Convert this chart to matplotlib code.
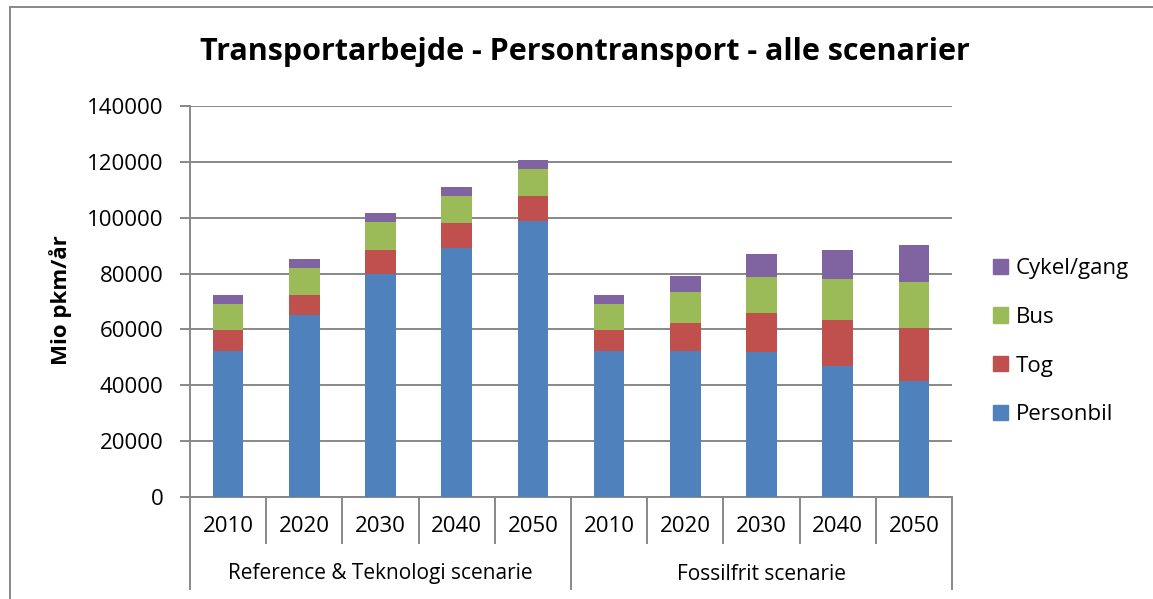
import matplotlib
matplotlib.use("Agg")
import matplotlib.pyplot as plt
from matplotlib.lines import Line2D
from matplotlib.patches import Patch
import numpy as np

W, H = 1153, 599
plt.rcParams['font.family'] = ['Open Sans', 'DejaVu Sans']

title = "Transportarbejde - Persontransport - alle scenarier"
ylabel = "Mio pkm/år"
years = ["2010", "2020", "2030", "2040", "2050"]
scenarios = ["Reference & Teknologi scenarie", "Fossilfrit scenarie"]
series_names = ["Personbil", "Tog", "Bus", "Cykel/gang"]
colors = ["#4F81BD", "#C0504D", "#9BBB59", "#8064A2"]

personbil = [52400, 65000, 80000, 89300, 98900, 52400, 52300, 52000, 46800, 41500]
tog = [7400, 7500, 8600, 8700, 8700, 7400, 10000, 13900, 16600, 19000]
bus = [9200, 9450, 9700, 9800, 9900, 9200, 11100, 12800, 14600, 16500]
cykel = [3200, 3350, 3350, 3350, 3200, 3200, 5600, 8250, 10500, 13150]
yticks = [0, 20000, 40000, 60000, 80000, 100000, 120000, 140000]

series = [personbil, tog, bus, cykel]

fig = plt.figure(figsize=(W / 100, H / 100), dpi=100)

def px2fig(x, y):
    return x / W, 1 - y / H

ax_left, ax_right, ax_top, ax_bot = 190, 952, 106, 497
ax = fig.add_axes([ax_left / W, 1 - ax_bot / H, (ax_right - ax_left) / W, (ax_bot - ax_top) / H])

x = np.arange(len(personbil))
bottom = np.zeros(len(x))
for vals, c, name in zip(series, colors, series_names):
    ax.bar(x, vals, 0.4, bottom=bottom, color=c, label=name, zorder=3)
    bottom += np.array(vals)

ax.set_xlim(-0.5, len(x) - 0.5)
ax.set_ylim(0, 140000)
ax.set_yticks(yticks)
ax.set_yticklabels([str(v) for v in yticks], fontsize=16)
grey = "#888888"
ax.yaxis.grid(True, color=grey, linewidth=1.4, zorder=0)
ax.set_xticks([])
for s in ["top", "right"]:
    ax.spines[s].set_visible(False)
for s in ["left", "bottom"]:
    ax.spines[s].set_color(grey)
    ax.spines[s].set_linewidth(1.4)
ax.tick_params(axis="y", length=7, width=1.4, color=grey, pad=12)

# multi-level category axis
ah = ax_bot - ax_top
y_inner = -(543 - ax_bot) / ah
y_outer = -(589 - ax_bot) / ah
trans = ax.get_xaxis_transform()
for i in range(len(x) + 1):
    xp = i - 0.5
    outer = (i % 5 == 0)
    ax.plot([xp, xp], [0, y_outer if outer else y_inner], color=grey, lw=1.4,
            transform=trans, clip_on=False)
for i in range(len(x)):
    ax.text(i, -(527 - ax_bot) / ah, years[i % 5], transform=trans, ha="center",
            va="center", fontsize=16)
for j, sc in enumerate(scenarios):
    ax.text(2 + 5 * j, -(574 - ax_bot) / ah, sc, transform=trans, ha="center",
            va="center", fontsize=15)

fig.text(*px2fig(585, 52), title, ha="center", va="center", fontsize=22, fontweight="bold")
fig.text(*px2fig(61, 300), ylabel, ha="center", va="center", rotation=90,
         fontsize=16, fontweight="bold")

handles = [Patch(color=c, label=n) for c, n in zip(colors, series_names)][::-1]
fig.legend(handles=handles, loc="upper left", bbox_to_anchor=px2fig(993, 258),
           frameon=False, fontsize=16, handlelength=0.68, handleheight=0.68,
           handletextpad=0.35, labelspacing=1.25, borderpad=0, borderaxespad=0)

# chart border
fig.add_artist(Line2D([10 / W, 1], [1 - 7 / H, 1 - 7 / H], color=grey, lw=1.4))
fig.add_artist(Line2D([10 / W, 10 / W], [0, 1 - 7 / H], color=grey, lw=1.4))

fig.savefig("out.png", dpi=100)
